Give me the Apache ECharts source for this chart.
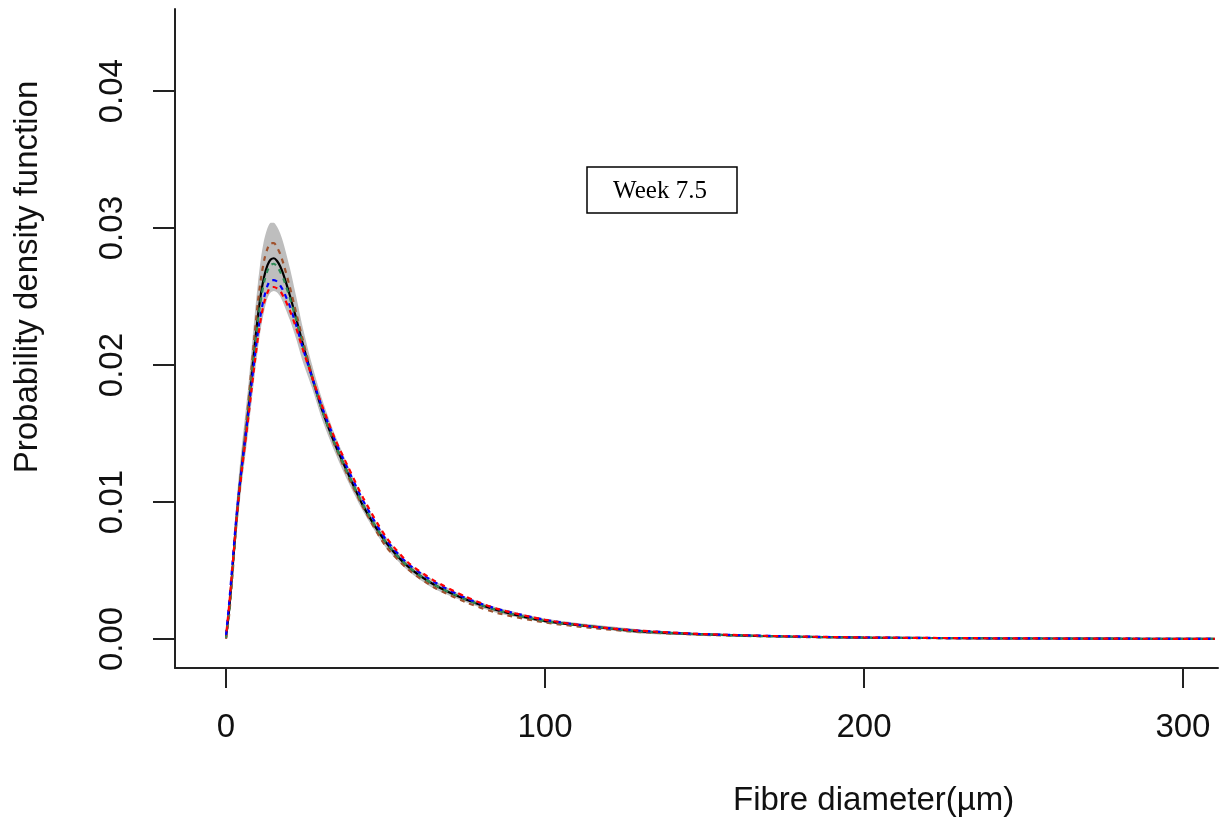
<!DOCTYPE html>
<html>
<head>
<meta charset="utf-8">
<script src="https://cdn.jsdelivr.net/npm/echarts@6/dist/echarts.min.js"></script>
<style>
html,body{margin:0;padding:0;background:#fff;}
#chart{width:1228px;height:820px;}
</style>
</head>
<body>
<div id="chart"></div>
<script>
// Fibre diameter (µm) grid
const diam = [0,1,2,3,4,5,6,7,8,9,10,11,12,13,14,15,16,17,18,20,22,24,27,30,34,38,43,50,57,65,75,85,100,115,130,150,175,200,240,280,310];

// fitted density (black solid)
const fitted = [0.0001,0.0022,0.0050,0.0080,0.0105,0.0127,0.0147,0.0168,0.0192,0.0215,0.0236,0.0253,0.0265,0.0273,0.0277,0.0278,0.0276,0.0272,0.0266,0.0251,0.0234,0.0216,0.0191,0.0168,0.0143,0.0122,0.0097,0.0071,0.0053,0.0040,0.0029,0.0021,0.0013,0.0009,0.00055,0.00033,0.00018,0.0001,0.00005,0.00002,0.00001];

// confidence band
const bandUpper = [0.0004,0.0030,0.0060,0.0092,0.0119,0.0142,0.0163,0.0185,0.0211,0.0237,0.0260,0.0279,0.0292,0.0300,0.0304,0.0304,0.0301,0.0296,0.0289,0.0271,0.0250,0.0228,0.0200,0.0176,0.0150,0.0128,0.0102,0.0075,0.0056,0.0043,0.0031,0.0023,0.0015,0.00105,0.0007,0.00042,0.00025,0.00015,0.00008,0.00004,0.00002];
const bandLower = [0.0000,0.0014,0.0040,0.0069,0.0093,0.0114,0.0133,0.0152,0.0173,0.0193,0.0212,0.0228,0.0240,0.0249,0.0253,0.0254,0.0253,0.0250,0.0245,0.0233,0.0219,0.0203,0.0183,0.0161,0.0137,0.0116,0.0093,0.0067,0.0050,0.0037,0.0027,0.0019,0.0012,0.00078,0.0004,0.00025,0.00012,0.00006,0.00002,0.0,0.0];

// dashed comparison densities
const brownSeries = [0.0000,0.0018,0.0046,0.0077,0.0104,0.0128,0.0150,0.0173,0.0198,0.0223,0.0246,0.0264,0.0277,0.0285,0.0289,0.0289,0.0286,0.0281,0.0274,0.0257,0.0238,0.0219,0.0192,0.0168,0.0142,0.0120,0.0096,0.0068,0.0051,0.0038,0.0027,0.0019,0.0012,0.0008,0.0005,0.0003,0.00016,0.00009,0.00004,0.00002,0.00001];
const greenSeries = [0.0001,0.0021,0.0049,0.0079,0.0104,0.0126,0.0146,0.0167,0.0190,0.0212,0.0232,0.0249,0.0261,0.0269,0.0273,0.0274,0.0272,0.0268,0.0263,0.0249,0.0233,0.0215,0.0191,0.0168,0.0143,0.0122,0.0098,0.0071,0.0053,0.0040,0.0029,0.0021,0.0013,0.0009,0.00055,0.00033,0.00018,0.0001,0.00005,0.00002,0.00001];
const blueSeries = [0.0003,0.0027,0.0055,0.0083,0.0107,0.0127,0.0146,0.0165,0.0186,0.0206,0.0224,0.0239,0.0250,0.0258,0.0262,0.0262,0.0261,0.0258,0.0254,0.0243,0.0229,0.0213,0.0191,0.0170,0.0146,0.0125,0.0101,0.0073,0.0055,0.0042,0.0030,0.0022,0.0014,0.0009,0.0006,0.00035,0.0002,0.00011,0.00005,0.00002,0.00001];
const redSeries = [0.0002,0.0025,0.0052,0.0080,0.0104,0.0124,0.0143,0.0162,0.0182,0.0202,0.0220,0.0235,0.0246,0.0253,0.0257,0.0257,0.0256,0.0254,0.0250,0.0240,0.0227,0.0212,0.0191,0.0171,0.0147,0.0127,0.0103,0.0075,0.0056,0.0043,0.0031,0.0022,0.0014,0.0009,0.0006,0.00036,0.0002,0.00011,0.00005,0.00002,0.00001];

const xTicks = [0,100,200,300];
const yTicks = [0,0.01,0.02,0.03,0.04];
const weekLabel = 'Week 7.5';
const xTitle = 'Fibre diameter(\u00b5m)';
const yTitle = 'Probability density function';

const FONT = '"Liberation Sans", Arial, Helvetica, sans-serif';
const SMOOTH = 0.25;
const pairs = arr => diam.map((x, i) => [x, arr[i]]);

function dashed(name, color, data, offset) {
  return {
    name, type: 'line', data: pairs(data), showSymbol: false, smooth: SMOOTH,
    lineStyle: { color, width: 2.2, type: [5, 5], dashOffset: offset || 0 }, z: 4
  };
}

const chart = echarts.init(document.getElementById('chart'));
chart.setOption({
  animation: false,
  backgroundColor: '#ffffff',
  grid: { left: 175, right: 10, top: 9, bottom: 152 },
  xAxis: {
    type: 'value', min: -16, max: 311,
    axisLine: { show: true, onZero: false, lineStyle: { color: '#222', width: 2 } },
    axisTick: { show: true, customValues: xTicks, length: 20, lineStyle: { color: '#222', width: 2 } },
    axisLabel: { customValues: xTicks, fontSize: 33, color: '#111', margin: 43, fontFamily: FONT },
    splitLine: { show: false }
  },
  yAxis: {
    type: 'value', min: -0.00212, max: 0.046,
    axisLine: { show: true, onZero: false, lineStyle: { color: '#222', width: 2 } },
    axisTick: { show: true, customValues: yTicks, length: 22, lineStyle: { color: '#222', width: 2 } },
    axisLabel: { customValues: yTicks, fontSize: 33, color: '#111', margin: 46, rotate: 90,
      fontFamily: FONT, formatter: v => v.toFixed(2) },
    splitLine: { show: false }
  },
  graphic: [
    { type: 'text', left: 733, top: 784, style: { text: xTitle, fill: '#111', font: '33px ' + FONT } },
    { type: 'text', x: 28, y: 277, rotation: Math.PI / 2,
      style: { text: yTitle, fill: '#111', font: '33px ' + FONT, align: 'center', verticalAlign: 'middle' } },
    { type: 'rect', shape: { x: 587, y: 167, width: 150, height: 46 },
      style: { fill: '#fff', stroke: '#000', lineWidth: 1.5 }, z: 10 },
    { type: 'text', x: 660, y: 191, z: 11,
      style: { text: weekLabel, fill: '#000', font: '25px "Liberation Serif", "Times New Roman", serif', align: 'center', verticalAlign: 'middle' } }
  ],
  series: [
    { name: 'bandUpper', type: 'line', data: pairs(bandUpper), showSymbol: false, smooth: SMOOTH,
      lineStyle: { width: 0, opacity: 0 }, areaStyle: { color: '#bebebe', opacity: 1, origin: 0 }, z: 1 },
    { name: 'bandLower', type: 'line', data: pairs(bandLower), showSymbol: false, smooth: SMOOTH,
      lineStyle: { width: 0, opacity: 0 }, areaStyle: { color: '#ffffff', opacity: 1, origin: 0 }, z: 2 },
    { name: 'fitted', type: 'line', data: pairs(fitted), showSymbol: false, smooth: SMOOTH,
      lineStyle: { color: '#000', width: 2.2 }, z: 3 },
    dashed('brown', '#a0522d', brownSeries, 0),
    dashed('green', '#2e8b57', greenSeries, 3),
    dashed('blue', '#0000ff', blueSeries, 0),
    dashed('red', '#ff0000', redSeries, 5)
  ]
});
</script>
</body>
</html>
